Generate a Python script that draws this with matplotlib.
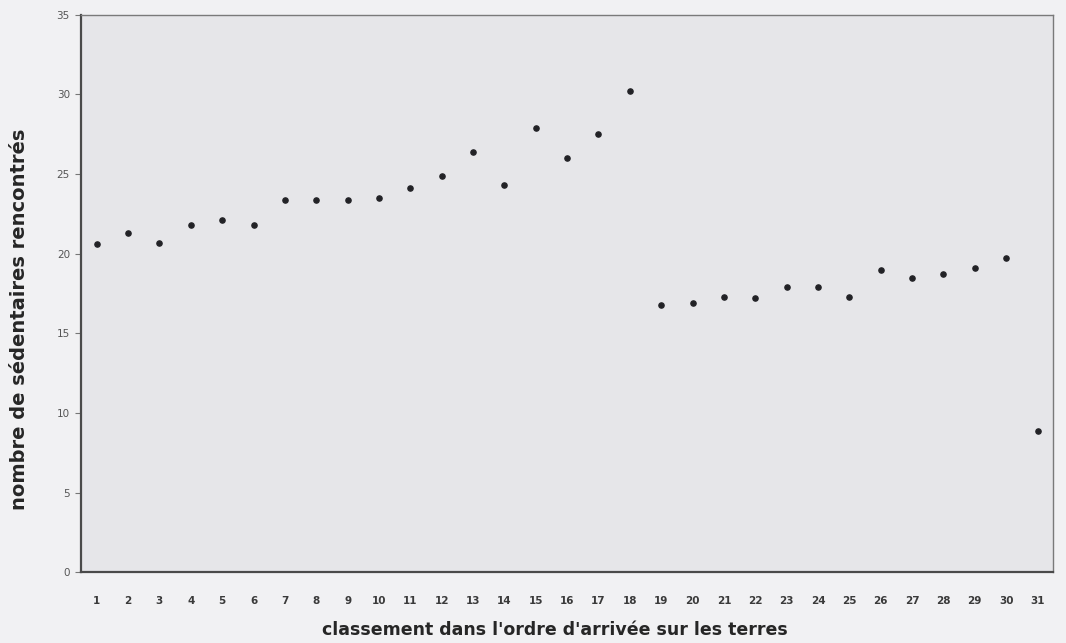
import matplotlib
matplotlib.use('Agg')
from matplotlib import pyplot as plt

# rang d'arrivée et nombre de sédentaires rencontrés
rang = list(range(1, 32))
sedentaires = [20.6, 21.3, 20.7, 21.8, 22.1, 21.8, 23.4, 23.4, 23.4, 23.5,
               24.1, 24.9, 26.4, 24.3, 27.9, 26.0, 27.5, 30.2, 16.8, 16.9,
               17.3, 17.2, 17.9, 17.9, 17.3, 19.0, 18.5, 18.7, 19.1, 19.7,
               8.9]
y_ticks = [0, 5, 10, 15, 20, 25, 30, 35]

x_label = "classement dans l'ordre d'arrivée sur les terres"
y_label = 'nombre de sédentaires rencontrés'

fig = plt.figure(figsize=(10.66, 6.43), dpi=100, facecolor='#f1f1f3')
ax = fig.add_axes([0.076, 0.110, 0.912, 0.867])
ax.set_facecolor('#e6e6e9')

ax.scatter(rang, sedentaires, s=14, color='#222226', marker='o', zorder=3)

ax.set_xlim(0.5, 31.5)
ax.set_ylim(0, 35)
ax.set_xticks(rang)
ax.set_xticklabels([str(r) for r in rang], fontsize=7.5, fontweight='bold', color='#3a3a3a')
ax.set_yticks(y_ticks)
ax.set_yticklabels([str(v) for v in y_ticks], fontsize=7.5, color='#555555')
ax.tick_params(axis='x', length=0, pad=17)
ax.tick_params(axis='y', length=4, width=0.8, color='#777777', pad=4)

for side in ['left', 'bottom']:
    ax.spines[side].set_color('#4a4a4a')
    ax.spines[side].set_linewidth(1.6)
for side in ['top', 'right']:
    ax.spines[side].set_color('#7a7a7a')
    ax.spines[side].set_linewidth(1.0)

ax.set_xlabel(x_label, fontsize=12.5, fontweight='bold', color='#262626')
ax.set_ylabel(y_label, fontsize=14, fontweight='bold', color='#262626')
ax.xaxis.set_label_coords(0.487, -0.088)
ax.yaxis.set_label_coords(-0.053, 0.454)

plt.savefig('out.png', dpi=100, facecolor=fig.get_facecolor())
